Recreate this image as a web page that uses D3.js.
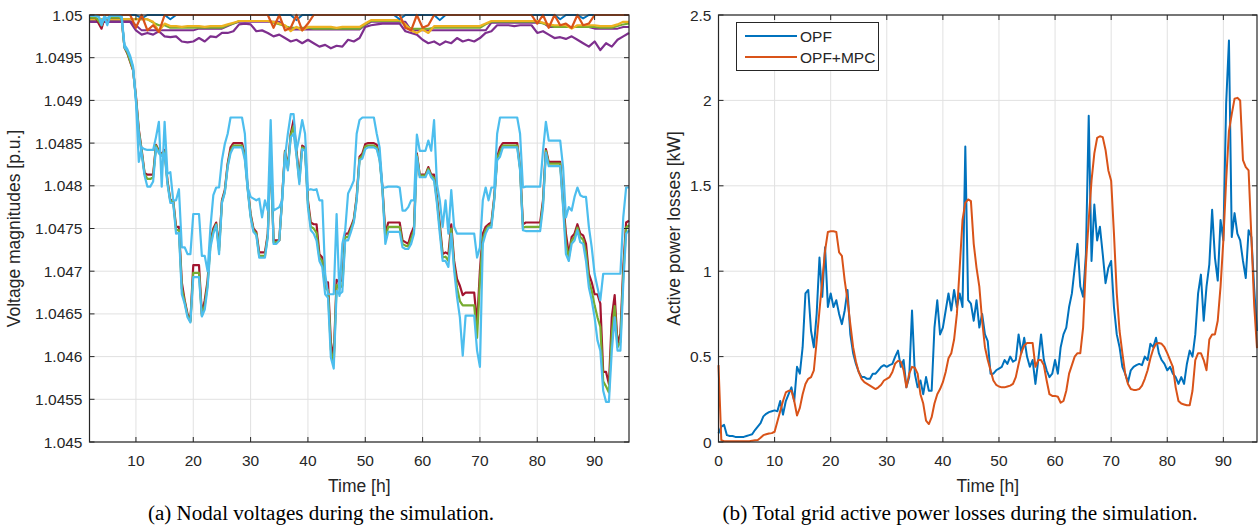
<!DOCTYPE html>
<html>
<head>
<meta charset="utf-8">
<script src="https://cdn.jsdelivr.net/npm/d3@7"></script>
<style>
  html, body { margin: 0; padding: 0; background: #fff; }
  svg { display: block; }
  .tick-label { font-family: "Liberation Sans", Arial, sans-serif; font-size: 15.5px; fill: #262626; }
  .axis-title { font-family: "Liberation Sans", Arial, sans-serif; font-size: 17.5px; fill: #262626; }
  .caption { font-family: "Liberation Serif", "Times New Roman", serif; font-size: 20px; fill: #000; }
</style>
</head>
<body>
<div id="chart"></div>
<script>
// ---------- data: (a) nodal voltages [p.u.], sampled every half hour from t = 2 h
const halfHours = d3.range(2, 96.25, 0.5);

const vRed = [
  1.04997,1.04997,1.04997,1.04990,1.04984,1.04996,1.04996,1.04997,1.04997,1.04997,1.04997,1.04996,
  1.04962,1.04955,1.04945,1.04935,1.04905,1.04866,1.04842,1.04815,1.04813,1.04813,1.04813,1.04848,
  1.04841,1.04837,1.04842,1.04806,1.04783,1.04783,1.04752,1.04752,1.04687,1.04666,1.04650,1.04642,
  1.04707,1.04707,1.04707,1.04650,1.04666,1.04689,1.04736,1.04750,1.04757,1.04728,1.04783,1.04795,
  1.04826,1.04845,1.04850,1.04850,1.04850,1.04850,1.04837,1.04798,1.04767,1.04750,1.04746,1.04722,
  1.04722,1.04722,1.04744,1.04845,1.04736,1.04736,1.04736,1.04787,1.04841,1.04822,1.04861,1.04877,
  1.04841,1.04810,1.04847,1.04845,1.04783,1.04757,1.04755,1.04755,1.04720,1.04716,1.04687,1.04687,
  1.04617,1.04599,1.04690,1.04687,1.04690,1.04744,1.04744,1.04752,1.04761,1.04787,1.04834,1.04838,
  1.04849,1.04850,1.04850,1.04850,1.04848,1.04834,1.04798,1.04744,1.04757,1.04757,1.04757,1.04757,
  1.04757,1.04736,1.04734,1.04732,1.04744,1.04752,1.04838,1.04813,1.04813,1.04813,1.04822,1.04813,
  1.04813,1.04787,1.04755,1.04720,1.04722,1.04720,1.04755,1.04712,1.04691,1.04683,1.04672,1.04675,
  1.04675,1.04675,1.04675,1.04638,1.04701,1.04744,1.04752,1.04755,1.04757,1.04787,1.04834,1.04845,
  1.04850,1.04850,1.04850,1.04850,1.04850,1.04850,1.04822,1.04755,1.04757,1.04757,1.04757,1.04757,
  1.04757,1.04757,1.04783,1.04843,1.04828,1.04828,1.04828,1.04828,1.04828,1.04783,1.04744,1.04720,
  1.04740,1.04744,1.04755,1.04744,1.04742,1.04732,1.04697,1.04687,1.04673,1.04673,1.04662,1.04582,
  1.04582,1.04568,1.04646,1.04672,1.04615,1.04627,1.04705,1.04757,1.04759
];
const vGreen = [
  1.04997,1.04997,1.04997,1.04993,1.04988,1.04997,1.04996,1.04997,1.04997,1.04997,1.04997,1.04996,
  1.04962,1.04956,1.04946,1.04936,1.04903,1.04864,1.04840,1.04814,1.04808,1.04808,1.04810,1.04847,
  1.04840,1.04836,1.04840,1.04804,1.04782,1.04782,1.04748,1.04748,1.04680,1.04664,1.04648,1.04641,
  1.04698,1.04698,1.04698,1.04648,1.04660,1.04685,1.04732,1.04747,1.04755,1.04724,1.04781,1.04793,
  1.04824,1.04841,1.04847,1.04847,1.04847,1.04847,1.04834,1.04796,1.04765,1.04748,1.04744,1.04718,
  1.04718,1.04718,1.04742,1.04845,1.04734,1.04734,1.04736,1.04785,1.04840,1.04820,1.04859,1.04870,
  1.04838,1.04805,1.04845,1.04843,1.04779,1.04752,1.04750,1.04745,1.04716,1.04712,1.04680,1.04678,
  1.04608,1.04592,1.04684,1.04680,1.04683,1.04740,1.04740,1.04749,1.04759,1.04785,1.04832,1.04835,
  1.04846,1.04847,1.04847,1.04847,1.04845,1.04832,1.04796,1.04738,1.04752,1.04752,1.04752,1.04752,
  1.04752,1.04732,1.04730,1.04729,1.04738,1.04748,1.04836,1.04812,1.04812,1.04812,1.04820,1.04812,
  1.04809,1.04783,1.04750,1.04716,1.04717,1.04712,1.04750,1.04706,1.04681,1.04665,1.04660,1.04660,
  1.04660,1.04660,1.04660,1.04622,1.04690,1.04738,1.04748,1.04753,1.04754,1.04785,1.04832,1.04840,
  1.04847,1.04847,1.04847,1.04847,1.04847,1.04847,1.04820,1.04751,1.04752,1.04752,1.04752,1.04752,
  1.04752,1.04752,1.04779,1.04841,1.04826,1.04826,1.04826,1.04826,1.04826,1.04779,1.04732,1.04716,
  1.04736,1.04740,1.04751,1.04740,1.04737,1.04722,1.04689,1.04677,1.04660,1.04646,1.04635,1.04571,
  1.04565,1.04558,1.04627,1.04659,1.04611,1.04617,1.04695,1.04751,1.04754
];
const vCyan = [
  1.04999,1.04999,1.04999,1.04998,1.04988,1.04998,1.04988,1.04999,1.04999,1.04999,1.04999,1.04998,
  1.04962,1.04958,1.04950,1.04938,1.04900,1.04862,1.04838,1.04812,1.04799,1.04799,1.04805,1.04845,
  1.04838,1.04835,1.04838,1.04802,1.04780,1.04780,1.04744,1.04745,1.04673,1.04662,1.04646,1.04640,
  1.04693,1.04693,1.04693,1.04647,1.04655,1.04681,1.04728,1.04744,1.04754,1.04720,1.04780,1.04792,
  1.04822,1.04838,1.04845,1.04845,1.04845,1.04845,1.04830,1.04795,1.04763,1.04746,1.04742,1.04716,
  1.04716,1.04716,1.04740,1.04845,1.04732,1.04732,1.04736,1.04783,1.04838,1.04818,1.04857,1.04861,
  1.04836,1.04802,1.04843,1.04841,1.04775,1.04748,1.04744,1.04736,1.04712,1.04705,1.04673,1.04669,
  1.04599,1.04586,1.04677,1.04673,1.04676,1.04736,1.04736,1.04746,1.04757,1.04783,1.04830,1.04832,
  1.04843,1.04845,1.04845,1.04845,1.04843,1.04830,1.04795,1.04732,1.04746,1.04746,1.04746,1.04746,
  1.04746,1.04728,1.04726,1.04726,1.04732,1.04744,1.04834,1.04810,1.04810,1.04810,1.04818,1.04810,
  1.04806,1.04779,1.04744,1.04712,1.04712,1.04705,1.04744,1.04701,1.04670,1.04646,1.04601,1.04648,
  1.04648,1.04648,1.04648,1.04607,1.04588,1.04732,1.04744,1.04751,1.04751,1.04783,1.04830,1.04834,
  1.04845,1.04845,1.04845,1.04845,1.04845,1.04845,1.04818,1.04748,1.04747,1.04747,1.04747,1.04747,
  1.04747,1.04747,1.04775,1.04839,1.04823,1.04823,1.04823,1.04823,1.04823,1.04775,1.04720,1.04712,
  1.04732,1.04736,1.04748,1.04734,1.04732,1.04712,1.04681,1.04666,1.04646,1.04619,1.04607,1.04560,
  1.04547,1.04547,1.04607,1.04646,1.04607,1.04607,1.04685,1.04744,1.04748
];
const vCyanFeeder = [
  1.04999,1.04999,1.04999,1.04998,1.04992,1.04998,1.04996,1.04999,1.04999,1.04999,1.04999,1.04998,
  1.04965,1.04960,1.04952,1.04940,1.04900,1.04828,1.04845,1.04843,1.04842,1.04842,1.04842,1.04857,
  1.04875,1.04799,1.04875,1.04814,1.04816,1.04783,1.04783,1.04796,1.04728,1.04728,1.04720,1.04720,
  1.04767,1.04767,1.04767,1.04718,1.04718,1.04700,1.04752,1.04789,1.04798,1.04798,1.04830,1.04849,
  1.04861,1.04880,1.04880,1.04880,1.04880,1.04880,1.04861,1.04798,1.04787,1.04785,1.04783,1.04785,
  1.04763,1.04783,1.04771,1.04877,1.04771,1.04773,1.04775,1.04783,1.04834,1.04861,1.04884,1.04884,
  1.04841,1.04857,1.04877,1.04861,1.04795,1.04796,1.04795,1.04796,1.04783,1.04783,1.04697,1.04673,
  1.04673,1.04673,1.04767,1.04671,1.04732,1.04748,1.04791,1.04798,1.04806,1.04861,1.04877,1.04880,
  1.04880,1.04880,1.04880,1.04880,1.04861,1.04845,1.04798,1.04798,1.04799,1.04799,1.04799,1.04799,
  1.04798,1.04771,1.04771,1.04775,1.04783,1.04783,1.04860,1.04841,1.04841,1.04841,1.04853,1.04841,
  1.04877,1.04802,1.04783,1.04752,1.04783,1.04744,1.04795,1.04752,1.04744,1.04744,1.04744,1.04744,
  1.04744,1.04744,1.04744,1.04716,1.04728,1.04783,1.04798,1.04783,1.04798,1.04798,1.04861,1.04880,
  1.04880,1.04880,1.04880,1.04880,1.04880,1.04880,1.04861,1.04798,1.04799,1.04799,1.04799,1.04799,
  1.04799,1.04799,1.04841,1.04875,1.04853,1.04853,1.04853,1.04853,1.04853,1.04822,1.04763,1.04775,
  1.04771,1.04787,1.04798,1.04789,1.04787,1.04787,1.04752,1.04728,1.04697,1.04681,1.04666,1.04697,
  1.04697,1.04697,1.04697,1.04697,1.04697,1.04697,1.04763,1.04798,1.04798
];

// near-source nodes, hourly from t = 2 h
const hours = d3.range(2, 97, 1);

const vBlueTop = [
  1.05,1.05,1.05,1.05,1.05,1.05,1.05,1.05,1.05,1.04996,1.05,1.05,1.05,1.05,1.04995,1.05,
  1.05,1.05,1.05,1.05,1.05,1.05,1.05,1.05,1.05,1.05,1.05,1.05,1.05,1.05,1.05,1.05,
  1.05,1.05,1.05,1.05,1.04994,1.05,1.05,1.05,1.05,1.05,1.05,1.05,1.05,1.05,1.05,1.05,
  1.05,1.05,1.05,1.05,1.05,1.05,1.04995,1.05,1.05,1.05,1.05,1.05,1.05,1.04994,1.05,1.05,
  1.05,1.05,1.05,1.05,1.05,1.05,1.05,1.05,1.05,1.05,1.05,1.05,1.05,1.05,1.05,1.05,
  1.05,1.05,1.04995,1.05,1.05,1.05,1.04996,1.05,1.05,1.05,1.05,1.05,1.05,1.05,1.05
];
const vOrange = [
  1.05,1.05,1.05,1.05,1.05,1.05,1.05,1.05,1.04985,1.05,1.04982,1.04988,1.04980,1.05,1.05,1.05,
  1.05,1.05,1.05,1.05,1.05,1.05,1.05,1.05,1.05,1.05,1.05,1.05,1.05,1.05,1.05,1.05,
  1.04985,1.05,1.04982,1.04985,1.05,1.04982,1.04990,1.05,1.05,1.05,1.05,1.05,1.05,1.05,1.05,1.05,
  1.05,1.05,1.05,1.05,1.05,1.05,1.05,1.04985,1.04982,1.05,1.04985,1.04988,1.05,1.05,1.05,1.05,
  1.05,1.05,1.05,1.05,1.05,1.05,1.05,1.05,1.05,1.05,1.05,1.05,1.05,1.05,1.04990,1.05,
  1.04985,1.05,1.04988,1.04990,1.04985,1.05,1.04988,1.04990,1.05,1.05,1.05,1.05,1.05,1.05,1.05
];
const vYellow = [
  1.04995,1.04995,1.04995,1.04995,1.04995,1.04995,1.04995,1.04995,1.04995,1.04995,1.04995,1.04992,1.04981,1.04990,1.04987,1.04987,
  1.04986,1.04987,1.04987,1.04987,1.04986,1.04987,1.04987,1.04987,1.04989,1.04991,1.04993,1.04993,1.04993,1.04993,1.04993,1.04993,
  1.04992,1.04990,1.04988,1.04981,1.04986,1.04982,1.04986,1.04986,1.04986,1.04986,1.04986,1.04985,1.04986,1.04986,1.04986,1.04986,
  1.04990,1.04994,1.04994,1.04994,1.04994,1.04994,1.04994,1.04989,1.04982,1.04979,1.04983,1.04979,1.04987,1.04987,1.04987,1.04987,
  1.04987,1.04987,1.04987,1.04987,1.04987,1.04990,1.04993,1.04993,1.04993,1.04993,1.04993,1.04993,1.04993,1.04993,1.04993,1.04991,
  1.04989,1.04988,1.04988,1.04988,1.04984,1.04988,1.04988,1.04988,1.04988,1.04987,1.04987,1.04987,1.04989,1.04992,1.04992
];
const vGreenTop = [
  1.04995,1.04995,1.04995,1.04995,1.04995,1.04995,1.04995,1.04995,1.04995,1.04995,1.04995,1.04991,1.04988,1.04988,1.04985,1.04985,
  1.04985,1.04985,1.04985,1.04985,1.04985,1.04985,1.04985,1.04985,1.04988,1.04990,1.04993,1.04993,1.04993,1.04993,1.04993,1.04993,
  1.04991,1.04989,1.04987,1.04985,1.04985,1.04985,1.04985,1.04984,1.04984,1.04984,1.04984,1.04984,1.04984,1.04984,1.04984,1.04984,
  1.04989,1.04993,1.04993,1.04993,1.04993,1.04993,1.04993,1.04988,1.04984,1.04984,1.04984,1.04984,1.04985,1.04985,1.04985,1.04985,
  1.04985,1.04985,1.04985,1.04985,1.04985,1.04989,1.04992,1.04992,1.04992,1.04992,1.04992,1.04992,1.04992,1.04992,1.04992,1.04990,
  1.04988,1.04986,1.04986,1.04986,1.04986,1.04986,1.04986,1.04986,1.04986,1.04985,1.04985,1.04985,1.04987,1.04989,1.04990
];
const vPurpleA = [
  1.04993,1.04993,1.04993,1.04993,1.04993,1.04993,1.04993,1.04993,1.04988,1.04982,1.04982,1.04982,1.04982,1.04982,1.04982,1.04982,
  1.04982,1.04982,1.04982,1.04984,1.04984,1.04984,1.04984,1.04984,1.04987,1.04990,1.04992,1.04992,1.04992,1.04992,1.04992,1.04992,
  1.04992,1.04992,1.04987,1.04983,1.04983,1.04983,1.04983,1.04983,1.04983,1.04983,1.04983,1.04983,1.04983,1.04983,1.04983,1.04983,
  1.04988,1.04992,1.04992,1.04992,1.04992,1.04992,1.04992,1.04992,1.04982,1.04982,1.04982,1.04982,1.04982,1.04982,1.04982,1.04982,
  1.04982,1.04982,1.04982,1.04982,1.04982,1.04982,1.04991,1.04991,1.04991,1.04991,1.04991,1.04991,1.04991,1.04991,1.04991,1.04991,
  1.04986,1.04986,1.04986,1.04986,1.04986,1.04986,1.04986,1.04986,1.04984,1.04984,1.04984,1.04984,1.04984,1.04986,1.04986
];
const vPurpleB = [
  1.04992,1.04992,1.04992,1.04992,1.04992,1.04992,1.04992,1.04992,1.04982,1.04977,1.04979,1.04977,1.04981,1.04975,1.04974,1.04975,
  1.04969,1.04968,1.04969,1.04973,1.04969,1.04975,1.04974,1.04979,1.04979,1.04981,1.04989,1.04990,1.04989,1.04981,1.04982,1.04979,
  1.04975,1.04977,1.04973,1.04969,1.04971,1.04967,1.04971,1.04967,1.04963,1.04965,1.04961,1.04964,1.04963,1.04971,1.04969,1.04973,
  1.04986,1.04988,1.04989,1.04990,1.04990,1.04990,1.04990,1.04981,1.04979,1.04977,1.04971,1.04967,1.04969,1.04965,1.04969,1.04967,
  1.04973,1.04969,1.04971,1.04969,1.04973,1.04979,1.04981,1.04988,1.04988,1.04988,1.04987,1.04988,1.04988,1.04988,1.04979,1.04981,
  1.04977,1.04973,1.04974,1.04972,1.04975,1.04971,1.04967,1.04963,1.04969,1.04959,1.04967,1.04963,1.04971,1.04975,1.04979
];

// ---------- data: (b) total active power losses [kW], every half hour from t = 0 h
const lossHours = d3.range(0, 96.25, 0.5);

const lossOPF = [
  0.05,0.09,0.10,0.04,0.035,0.035,0.03,0.03,0.03,0.03,0.035,0.04,0.045,0.07,0.09,0.11,
  0.15,0.165,0.175,0.18,0.185,0.18,0.24,0.16,0.24,0.28,0.32,0.24,0.44,0.40,0.555,0.87,
  0.89,0.65,0.555,0.75,1.08,0.85,1.14,0.79,0.87,0.79,0.83,0.75,0.69,0.77,0.89,0.63,
  0.52,0.457,0.41,0.38,0.38,0.37,0.37,0.40,0.40,0.42,0.44,0.45,0.44,0.45,0.457,0.50,
  0.535,0.44,0.48,0.32,0.38,0.77,0.40,0.32,0.36,0.28,0.38,0.30,0.30,0.67,0.83,0.63,
  0.67,0.77,0.87,0.77,0.89,0.79,0.87,0.79,1.73,0.83,0.81,0.71,0.83,0.67,0.75,0.63,
  0.59,0.40,0.40,0.42,0.43,0.44,0.48,0.457,0.50,0.47,0.48,0.63,0.52,0.61,0.50,0.44,
  0.48,0.34,0.48,0.63,0.48,0.42,0.38,0.40,0.48,0.40,0.555,0.63,0.67,0.79,0.87,1.02,
  1.16,0.91,0.85,1.10,1.91,1.06,1.39,1.18,1.26,1.10,0.93,1.02,1.06,0.79,0.63,0.555,
  0.44,0.40,0.35,0.42,0.44,0.45,0.457,0.45,0.50,0.48,0.575,0.555,0.61,0.52,0.48,0.457,
  0.42,0.44,0.40,0.38,0.34,0.38,0.34,0.457,0.535,0.50,0.63,0.87,0.98,0.71,0.91,1.04,
  1.36,1.08,0.945,1.30,1.18,1.98,2.35,1.20,1.34,1.22,1.18,1.06,0.96,1.24,1.20,0.90,
  0.65
];
const lossMPC = [
  0.45,0.01,0.005,0.005,0.005,0.005,0.005,0.005,0.005,0.005,0.005,0.005,0.008,0.01,0.012,0.025,
  0.04,0.045,0.05,0.052,0.06,0.12,0.18,0.24,0.29,0.30,0.30,0.24,0.155,0.20,0.28,0.34,
  0.37,0.38,0.42,0.59,0.77,0.945,1.12,1.23,1.234,1.234,1.23,1.11,1.09,0.945,0.83,0.69,
  0.555,0.47,0.41,0.37,0.35,0.34,0.33,0.32,0.31,0.32,0.335,0.36,0.37,0.38,0.41,0.46,
  0.475,0.47,0.42,0.32,0.40,0.44,0.435,0.40,0.28,0.225,0.125,0.105,0.145,0.225,0.28,0.31,
  0.35,0.41,0.49,0.52,0.60,0.75,1.02,1.30,1.40,1.42,1.41,1.16,1.02,0.91,0.71,0.555,
  0.48,0.42,0.36,0.335,0.325,0.32,0.32,0.325,0.33,0.34,0.38,0.457,0.525,0.565,0.58,0.58,
  0.58,0.44,0.48,0.48,0.45,0.36,0.28,0.27,0.27,0.265,0.23,0.24,0.30,0.40,0.45,0.50,
  0.52,0.52,0.67,1.04,1.30,1.53,1.69,1.78,1.79,1.785,1.71,1.59,1.53,1.22,0.87,0.65,
  0.52,0.40,0.34,0.31,0.305,0.305,0.31,0.33,0.37,0.42,0.49,0.545,0.575,0.58,0.575,0.555,
  0.52,0.48,0.44,0.32,0.24,0.225,0.22,0.215,0.215,0.30,0.48,0.52,0.52,0.48,0.42,0.60,
  0.63,0.63,0.71,0.91,1.18,1.53,1.82,1.92,2.01,2.015,2.0,1.65,1.61,1.59,1.2,0.8,
  0.55
];

const voltTicks = [1.045, 1.0455, 1.046, 1.0465, 1.047, 1.0475, 1.048, 1.0485, 1.049, 1.0495, 1.05];
const voltHourTicks = [10, 20, 30, 40, 50, 60, 70, 80, 90];
const lossTicks = [0, 0.5, 1, 1.5, 2, 2.5];
const lossHourTicks = [0, 10, 20, 30, 40, 50, 60, 70, 80, 90];

// MATLAB default colour order
const C = {
  blue: '#0072BD', orange: '#D95319', yellow: '#EDB120', purple: '#7E2F8E',
  green: '#77AC30', cyan: '#4DBEEE', red: '#A2142F'
};
const AXIS = '#262626';
const GRID = '#e1e1e1';

const W = 1258, H = 525;
const svg = d3.select('#chart').append('svg').attr('width', W).attr('height', H);

function drawGrid(box, x, y, xTicks, yTicks) {
  const g = svg.append('g');
  g.selectAll('line.gx').data(xTicks).join('line')
    .attr('x1', d => x(d)).attr('x2', d => x(d))
    .attr('y1', box.top).attr('y2', box.bottom)
    .attr('stroke', GRID).attr('stroke-width', 1);
  g.selectAll('line.gy').data(yTicks).join('line')
    .attr('x1', box.left).attr('x2', box.right)
    .attr('y1', d => y(d)).attr('y2', d => y(d))
    .attr('stroke', GRID).attr('stroke-width', 1);
}

function drawFrame(box, x, y, xTicks, yTicks, yFmt, xTitle, yTitle, yTitleX) {
  const g = svg.append('g');
  const tl = 5;
  // inward ticks on all four sides, like a boxed MATLAB axes
  xTicks.forEach(t => {
    g.append('line').attr('x1', x(t)).attr('x2', x(t)).attr('y1', box.bottom).attr('y2', box.bottom - tl).attr('stroke', AXIS);
    g.append('line').attr('x1', x(t)).attr('x2', x(t)).attr('y1', box.top).attr('y2', box.top + tl).attr('stroke', AXIS);
  });
  yTicks.forEach(t => {
    g.append('line').attr('x1', box.left).attr('x2', box.left + tl).attr('y1', y(t)).attr('y2', y(t)).attr('stroke', AXIS);
    g.append('line').attr('x1', box.right).attr('x2', box.right - tl).attr('y1', y(t)).attr('y2', y(t)).attr('stroke', AXIS);
  });
  g.append('rect')
    .attr('x', box.left).attr('y', box.top)
    .attr('width', box.right - box.left).attr('height', box.bottom - box.top)
    .attr('fill', 'none').attr('stroke', AXIS).attr('stroke-width', 1.2);

  g.selectAll('text.xl').data(xTicks).join('text')
    .attr('class', 'tick-label')
    .attr('x', d => x(d)).attr('y', box.bottom + 24)
    .attr('text-anchor', 'middle').text(d => d);
  g.selectAll('text.yl').data(yTicks).join('text')
    .attr('class', 'tick-label')
    .attr('x', box.left - 7).attr('y', d => y(d) + 5.5)
    .attr('text-anchor', 'end').text(yFmt);

  g.append('text').attr('class', 'axis-title')
    .attr('x', (box.left + box.right) / 2).attr('y', box.bottom + 50)
    .attr('text-anchor', 'middle').text(xTitle);
  g.append('text').attr('class', 'axis-title')
    .attr('transform', `translate(${yTitleX},${(box.top + box.bottom) / 2}) rotate(-90)`)
    .attr('text-anchor', 'middle').text(yTitle);
}

function drawLine(x, y, xs, ys, color, width) {
  const line = d3.line().x((d, i) => x(xs[i])).y(d => y(d));
  svg.append('path').datum(ys)
    .attr('d', line)
    .attr('fill', 'none')
    .attr('stroke', color)
    .attr('stroke-width', width)
    .attr('stroke-linejoin', 'round');
}

// ---------- panel (a)
const boxA = { left: 89.5, right: 629, top: 15, bottom: 442 };
const xA = d3.scaleLinear().domain([1.9, 96]).range([boxA.left, boxA.right]);
const yA = d3.scaleLinear().domain([1.045, 1.05]).range([boxA.bottom, boxA.top]);

drawGrid(boxA, xA, yA, voltHourTicks, voltTicks);

drawLine(xA, yA, hours, vPurpleB, C.purple, 2.2);
drawLine(xA, yA, hours, vPurpleA, C.purple, 2);
drawLine(xA, yA, hours, vGreenTop, C.green, 2);
drawLine(xA, yA, hours, vYellow, C.yellow, 2.2);
drawLine(xA, yA, hours, vBlueTop, C.blue, 2);
drawLine(xA, yA, hours, vOrange, C.orange, 2.2);

drawLine(xA, yA, halfHours, vRed, C.red, 2.2);
drawLine(xA, yA, halfHours, vGreen, C.green, 2.2);
drawLine(xA, yA, halfHours, vCyan, C.cyan, 2.2);
drawLine(xA, yA, halfHours, vCyanFeeder, C.cyan, 2.2);

drawFrame(boxA, xA, yA, voltHourTicks, voltTicks, d => String(+d.toFixed(4)),
  'Time [h]', 'Voltage magnitudes [p.u.]', 20);

// ---------- panel (b)
const boxB = { left: 718.5, right: 1257, top: 15, bottom: 442 };
const xB = d3.scaleLinear().domain([0, 96]).range([boxB.left, boxB.right]);
const yB = d3.scaleLinear().domain([0, 2.5]).range([boxB.bottom, boxB.top]);

drawGrid(boxB, xB, yB, lossHourTicks, lossTicks);
drawLine(xB, yB, lossHours, lossOPF, C.blue, 2);
drawLine(xB, yB, lossHours, lossMPC, C.orange, 2);
drawFrame(boxB, xB, yB, lossHourTicks, lossTicks, d => String(d),
  'Time [h]', 'Active power losses [kW]', 680);

// legend
const legendItems = [
  { label: 'OPF', color: C.blue },
  { label: 'OPF+MPC', color: C.orange }
];
const lg = svg.append('g');
lg.append('rect').attr('x', 736.5).attr('y', 22.5).attr('width', 142).attr('height', 48)
  .attr('fill', '#fff').attr('stroke', AXIS).attr('stroke-width', 1);
legendItems.forEach((item, i) => {
  const cy = 36 + i * 21;
  lg.append('line').attr('x1', 745).attr('x2', 797).attr('y1', cy).attr('y2', cy)
    .attr('stroke', item.color).attr('stroke-width', 2);
  lg.append('text').attr('class', 'tick-label').attr('x', 800).attr('y', cy + 5.5).text(item.label);
});

// captions
svg.append('text').attr('class', 'caption').attr('x', 321).attr('y', 520)
  .attr('text-anchor', 'middle')
  .attr('textLength', 346).attr('lengthAdjust', 'spacingAndGlyphs')
  .text('(a)  Nodal voltages during the simulation.');
svg.append('text').attr('class', 'caption').attr('x', 960).attr('y', 520)
  .attr('text-anchor', 'middle')
  .attr('textLength', 475).attr('lengthAdjust', 'spacingAndGlyphs')
  .text('(b)  Total grid active power losses during the simulation.');
</script>
</body>
</html>
